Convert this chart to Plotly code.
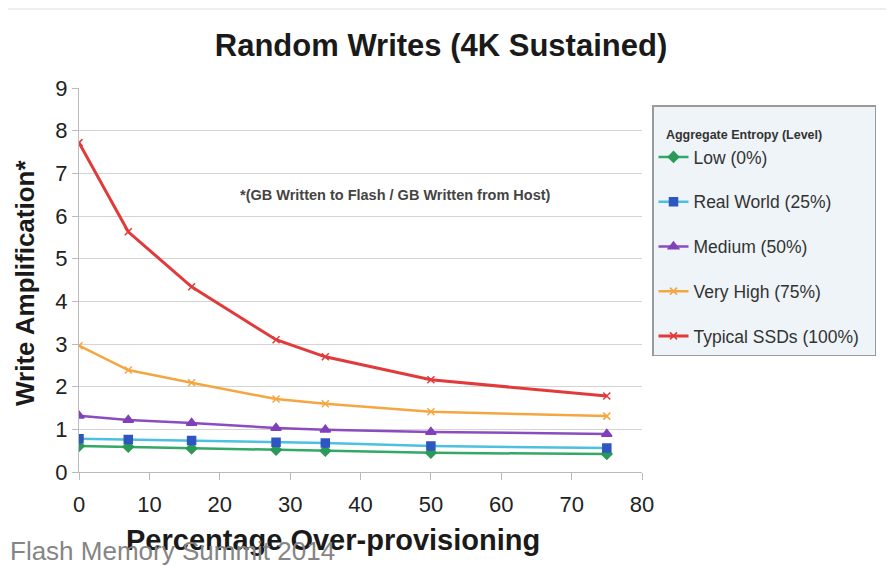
import plotly.graph_objects as go

x_op = [0, 7, 16, 28, 35, 50, 75]
low = [0.61, 0.59, 0.55, 0.52, 0.50, 0.45, 0.42]
real_world = [0.78, 0.76, 0.74, 0.70, 0.68, 0.61, 0.56]
medium = [1.32, 1.22, 1.15, 1.03, 0.99, 0.94, 0.89]
very_high = [2.96, 2.39, 2.09, 1.71, 1.60, 1.41, 1.31]
typical = [7.72, 5.63, 4.34, 3.10, 2.70, 2.16, 1.78]

series = [
    ("Low (0%)", low, "#34a865", "#2a9a58", "diamond", 8),
    ("Real World (25%)", real_world, "#4cc0e0", "#2f55c0", "square", 8),
    ("Medium (50%)", medium, "#8a4cbf", "#8040bb", "triangle-up", 9),
    ("Very High (75%)", very_high, "#f4a640", "#f4a640", "x-thin", 7),
    ("Typical SSDs (100%)\u00a0\u00a0", typical, "#e23a3a", "#e23a3a", "x-thin", 7),
]

font = "Liberation Sans, Arial, sans-serif"
OFF = 8  # page body margin
L, R, T, B = 79 - OFF, 894 - (642 - OFF), 88 - OFF, 566 - (472 - OFF)
PW, PH = 894 - L - R, 566 - T - B


def px(xp):  # page pixel x -> paper
    return (xp - OFF - L) / PW


def py(yp):  # page pixel y -> paper
    return (566 - B - (yp - OFF)) / PH


fig = go.Figure()
for i, (name, ys, lc, mc, sym, sz) in enumerate(series):
    fig.add_trace(go.Scatter(
        x=x_op, y=ys, name=name, mode="lines+markers", legendgroup=f"g{i}",
        line=dict(color=lc, width=3 if "Typical" in name else 2.5),
        marker=dict(symbol=sym, size=sz, color=mc, line=dict(color=mc, width=1.5)),
    ))

fig.update_layout(
    width=894, height=566,
    margin=dict(l=L, r=R, t=T, b=B, autoexpand=False),
    paper_bgcolor="white", plot_bgcolor="white",
    font=dict(family=font, color="#222"),
    title=dict(text="<b>Random Writes (4K Sustained)</b>", x=(441 - OFF) / 894, xanchor="center",
               y=0.935, yanchor="middle", font=dict(size=31, color="#1a1a1a")),
    legend=dict(
        x=px(652), y=py(105), xanchor="left", yanchor="top",
        bgcolor="#eef4f7", bordercolor="#9a9a9a", borderwidth=1.5,
        font=dict(size=17.5, color="#333"),
        title=dict(text=" <br><b>\u00a0\u00a0\u00a0Aggregate Entropy (Level)</b>",
                   font=dict(size=12.5, color="#333")),
        tracegroupgap=19, itemwidth=30,
    ),
    showlegend=True,
)
fig.update_xaxes(
    range=[0, 80], dtick=10, tick0=0, automargin=False,
    showgrid=False, zeroline=False,
    showline=True, linecolor="#bbbbbb", linewidth=1,
    ticks="outside", ticklen=7, tickcolor="#bbbbbb",
    ticklabelstandoff=6,
    tickfont=dict(size=22, color="#222"),
)
fig.update_yaxes(
    range=[0, 9], dtick=1, tick0=0, automargin=False,
    showgrid=True, gridcolor="#d4d4d4", gridwidth=1.2, zeroline=False,
    showline=True, linecolor="#bbbbbb", linewidth=1,
    ticks="outside", ticklen=6, tickcolor="#bbbbbb",
    tickfont=dict(size=22, color="#222"),
)
# axis titles
fig.add_annotation(
    x=px(333), y=py(540), xref="paper", yref="paper", xanchor="center", yanchor="middle",
    text="<b>Percentage Over-provisioning</b>", showarrow=False,
    font=dict(size=29, color="#1a1a1a"),
)
fig.add_annotation(
    x=px(25), y=py(283), xref="paper", yref="paper", textangle=-90,
    xanchor="center", yanchor="middle",
    text="<b>Write Amplification*</b>", showarrow=False,
    font=dict(size=26, color="#1a1a1a"),
)
fig.add_annotation(
    x=px(395), y=py(195), xref="paper", yref="paper", xanchor="center", yanchor="middle",
    text="<b>*(GB Written to Flash / GB Written from Host)</b>",
    showarrow=False, font=dict(size=14.5, color="#444"),
)
fig.add_annotation(
    x=px(8), y=py(568), xref="paper", yref="paper",
    xanchor="left", yanchor="bottom",
    text="Flash Memory Summit 2014", showarrow=False,
    font=dict(size=26, color="#858585", family=font),
)
fig.add_shape(type="line", xref="paper", yref="paper", x0=px(0), x1=px(902),
              y0=py(9), y1=py(9), line=dict(color="#eeeeee", width=2))

fig.write_html("out.html")
